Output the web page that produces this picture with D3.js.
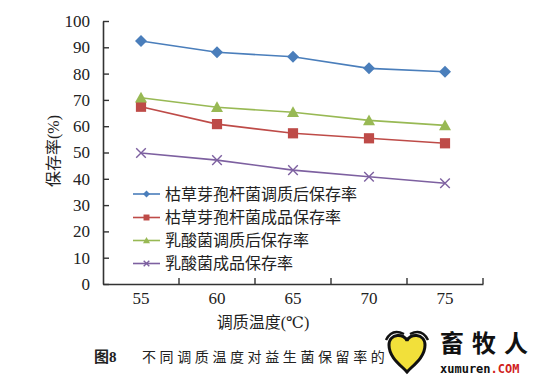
<!DOCTYPE html>
<html><head><meta charset="utf-8">
<script src="https://cdn.jsdelivr.net/npm/d3@7"></script>
<style>body{margin:0;background:#fff}svg{display:block}
.sf{font-family:"Liberation Serif","DejaVu Serif","Noto Sans CJK SC",serif}</style>
</head><body>
<svg id="c" width="558" height="379"></svg>
<script>
const categories = ["55","60","65","70","75"];
const yTicks = [0,10,20,30,40,50,60,70,80,90,100];
const seriesNames = ["枯草芽孢杆菌调质后保存率","枯草芽孢杆菌成品保存率","乳酸菌调质后保存率","乳酸菌成品保存率"];
const bsAfter = [92.4, 88.1, 86.4, 82.0, 80.7];
const bsProduct = [67.4, 60.8, 57.3, 55.4, 53.5];
const labAfter = [70.8, 67.2, 65.3, 62.2, 60.3];
const labProduct = [49.8, 47.1, 43.3, 40.8, 38.3];
const colors = ["#4a7ebb","#be4b48","#98b954","#7d60a0"];
const markers = ["diamond","square","triangle","cross"];
const xTitle = "调质温度(℃)";
const yTitle = "保存率(%)";
const captionBold = "图8";
const captionText = "不同调质温度对益生菌保留率的";

const seriesVals = [bsAfter, bsProduct, labAfter, labProduct];
const svg = d3.select("#c");
const L = 103, R = 483, T = 21, B = 284;
const x = d3.scaleBand().domain(categories).range([L, R]);
const y = d3.scaleLinear().domain([0,100]).range([B, T]);
const axisColor = "#333";
const SERIF = '"Liberation Serif","DejaVu Serif","Noto Sans CJK SC",serif';

// Axes
const gy = svg.append("g").attr("transform", `translate(${L},0)`)
  .call(d3.axisLeft(y).tickValues(yTicks).tickSizeInner(-6).tickSizeOuter(0).tickPadding(13));
const gx = svg.append("g").attr("transform", `translate(0,${B})`)
  .call(d3.axisBottom(x).tickSizeInner(0).tickSizeOuter(0).tickPadding(8));
[gy, gx].forEach(g => {
  g.attr("font-family", SERIF).attr("font-size", 17);
  g.select(".domain").attr("stroke", axisColor).attr("stroke-width", 1.6);
  g.selectAll(".tick line").attr("stroke", axisColor).attr("stroke-width", 1.4);
  g.selectAll("text").style("font-family", SERIF).style("font-size", "17px").attr("fill", "#222");
});
// x tick marks at band boundaries (inward)
const bounds = categories.map(c => x(c) + x.bandwidth());
svg.append("g").selectAll("line").data(bounds).join("line")
  .attr("x1", d => d).attr("x2", d => d).attr("y1", B).attr("y2", B - 6)
  .attr("stroke", axisColor).attr("stroke-width", 1.4);

// Marker drawing
function drawMarker(g, type, cx, cy, s, color) {
  if (type === "diamond") {
    g.append("path").attr("d", `M${cx},${cy-s}L${cx+s},${cy}L${cx},${cy+s}L${cx-s},${cy}Z`).attr("fill", color);
  } else if (type === "square") {
    g.append("rect").attr("x", cx - s*0.85).attr("y", cy - s*0.85).attr("width", s*1.7).attr("height", s*1.7).attr("fill", color);
  } else if (type === "triangle") {
    g.append("path").attr("d", `M${cx},${cy-s}L${cx+s},${cy+s*0.8}L${cx-s},${cy+s*0.8}Z`).attr("fill", color);
  } else {
    const k = s*0.8;
    g.append("path").attr("d", `M${cx-k},${cy-k}L${cx+k},${cy+k}M${cx-k},${cy+k}L${cx+k},${cy-k}`)
      .attr("stroke", color).attr("stroke-width", 1.4).attr("fill", "none");
  }
}

const line = d3.line().x((d,i) => x(categories[i]) + x.bandwidth()/2).y(d => y(d));
seriesVals.forEach((vals, si) => {
  const g = svg.append("g");
  g.append("path").attr("d", line(vals)).attr("fill", "none").attr("stroke", colors[si]).attr("stroke-width", 1.6);
  vals.forEach((v, i) => drawMarker(g, markers[si], x(categories[i]) + x.bandwidth()/2, y(v), 6, colors[si]));
});

// Legend
const lg = svg.append("g");
const legY = [194, 217.5, 240.5, 263.5];
seriesNames.forEach((name, i) => {
  lg.append("line").attr("x1", 133).attr("x2", 160).attr("y1", legY[i]).attr("y2", legY[i])
    .attr("stroke", colors[i]).attr("stroke-width", 1.6);
  drawMarker(lg, markers[i], 146.5, legY[i], 3.5, colors[i]);
  lg.append("text").style("font-family", SERIF).attr("x", 165).attr("y", legY[i]).attr("dy", "0.36em")
    .style("font-size", "16px").attr("fill", "#222").text(name);
});

// Titles
svg.append("text").style("font-family", SERIF).attr("x", 263).attr("y", 322).attr("dy", "0.36em").attr("text-anchor", "middle")
  .style("font-size", "16px").attr("fill", "#222").text(xTitle);
svg.append("text").style("font-family", SERIF).attr("transform", "translate(53,151) rotate(-90)").attr("dy", "0.36em").attr("text-anchor", "middle")
  .style("font-size", "16px").attr("fill", "#222").text(yTitle);

// Caption
svg.append("text").style("font-family", SERIF).attr("x", 94).attr("y", 357).attr("dy", "0.36em")
  .style("font-size", "15px").attr("font-weight", "bold").attr("fill", "#222").text(captionBold);
svg.append("text").style("font-family", SERIF).attr("x", 142).attr("y", 357).attr("dy", "0.36em")
  .style("font-size", "14px").attr("letter-spacing", 3.6).attr("fill", "#222").text(captionText);

// Watermark
const wm = svg.append("g");
wm.append("path").attr("d", "M389,345 C389,333 405,333 407,341 C409,333 425,333 425,345 C425,358 412,366 407,372 C402,366 389,358 389,345Z")
  .attr("fill", "#f2e03a").attr("stroke", "#111").attr("stroke-width", 3);
wm.append("path").attr("d", "M386,340 Q392,328 404,334 M410,334 Q422,328 428,340").attr("fill", "none").attr("stroke", "#111").attr("stroke-width", 2.5);
wm.append("text").attr("x", 440).attr("y", 343).attr("dy", "0.36em").style("font-family", "'Noto Sans CJK SC',sans-serif")
  .style("font-size", "24px").attr("font-weight", "bold").attr("letter-spacing", 8).attr("fill", "#111").text("畜牧人");
wm.append("text").attr("x", 440).attr("y", 369).attr("dy", "0.36em").style("font-family", "'DejaVu Sans Mono',monospace")
  .style("font-size", "12px").attr("font-weight", "bold").attr("fill", "#111").text("xumuren")
  .append("tspan").attr("fill", "#d0211c").text(".COM");
</script>
</body></html>
